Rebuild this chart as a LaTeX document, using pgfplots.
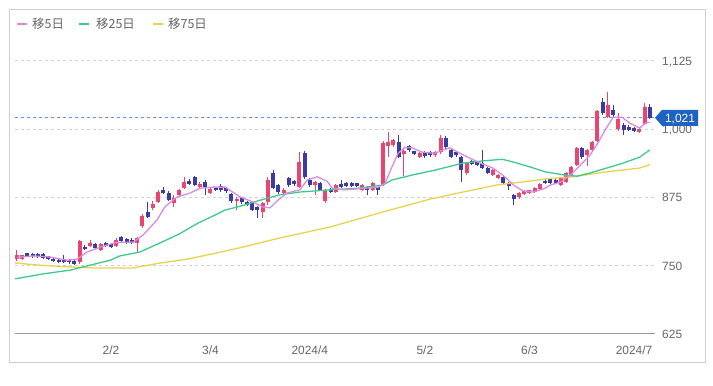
\documentclass[border=0pt]{standalone}
\usepackage{fontspec}
\setmainfont{Liberation Sans}
\newfontfamily\cjk{Noto Sans CJK JP}
\usepackage{pgfplots}
\usepackage{pgfplotstable}
\pgfplotsset{compat=1.18}
\definecolor{upc}{HTML}{E8466E}
\definecolor{dnc}{HTML}{3B3BA6}
\definecolor{mafive}{HTML}{D98BE0}
\definecolor{matwentyfive}{HTML}{3DCB8C}
\definecolor{maseventyfive}{HTML}{E9D34E}
\definecolor{gridc}{HTML}{D0D0D0}
\definecolor{axisc}{HTML}{9A9A9A}
\definecolor{framec}{HTML}{CFCFCF}
\definecolor{tickc}{HTML}{666666}
\definecolor{lastblue}{RGB}{100,150,230}
\definecolor{boxc}{HTML}{1D63C4}

\pgfplotstableread{
i o h l c
2 762 778 758 770
3 763 770 760 769
14 756 797 754 795
16 786 798 784 792
18 779 792 777 790
21 786 800 784 798
25 792 803 776 800
26 822 845 820 842
28 855 868 852 864
29 867 888 865 885
32 865 880 857 874
33 880 891 877 889
34 893 912 890 903
37 894 904 890 900
39 884 894 881 891
44 868 876 852 872
49 849 867 838 865
50 866 913 862 907
53 883 893 879 889
56 895 958 893 940
59 898 906 880 903
61 868 890 865 888
63 885 899 883 897
68 889 900 887 898
70 889 903 886 901
72 898 978 896 975
73 970 995 950 976
74 971 983 968 980
76 955 965 915 960
79 950 958 948 956
82 953 960 950 958
83 958 990 955 984
88 920 940 917 938
93 916 927 914 925
94 910 918 908 916
98 875 885 872 883
99 882 889 880 887
100 883 889 882 888
101 885 894 883 892
102 891 901 889 899
106 898 912 896 910
107 904 922 902 920
108 916 933 914 931
109 934 967 932 965
111 953 964 933 962
112 962 978 960 976
113 978 1036 976 1033
115 1022 1068 1020 1044
117 1000 1030 996 1018
121 995 1004 993 1001
122 1010 1048 1008 1040
}\uptab

\pgfplotstableread{
i o h l c
4 773 774 767 768
5 772 774 765 767
6 771 773 765 766
7 771 774 762 764
8 767 768 760 762
9 763 765 756 758
10 761 762 755 756
11 762 770 755 757
12 761 762 754 756
13 759 760 752 754
15 785 788 778 780
17 790 792 781 783
19 792 794 784 786
20 790 792 784 785
22 802 805 794 796
23 799 801 790 794
24 798 800 791 792
27 848 866 838 840
30 889 895 882 884
31 883 886 868 870
35 906 908 898 900
36 912 915 896 898
38 903 907 880 895
40 893 894 887 888
41 896 899 885 888
42 892 894 883 886
43 882 884 865 868
45 874 876 864 867
46 867 869 861 862
47 867 869 850 853
48 857 860 838 852
51 920 926 890 893
52 897 900 882 885
54 911 913 895 898
55 905 907 896 899
57 956 960 908 912
58 907 910 895 898
60 902 904 886 889
62 891 892 884 885
64 899 907 893 894
65 901 903 895 896
66 901 903 895 896
67 901 902 894 896
69 894 896 880 889
71 894 895 880 889
75 976 990 947 950
77 969 972 958 962
78 960 961 953 955
80 958 960 948 951
81 958 961 950 953
84 984 987 964 967
85 962 964 947 950
86 958 961 950 953
87 949 951 904 925
89 941 943 935 936
90 940 942 932 935
91 938 962 927 929
92 929 931 918 920
95 913 915 900 902
96 902 903 889 896
97 880 882 862 873
103 906 908 899 901
104 908 909 901 902
105 907 908 900 901
110 965 967 946 949
114 1049 1057 1026 1029
116 1035 1044 1020 1026
118 1008 1012 989 999
119 1005 1007 997 999
120 1003 1004 996 997
123 1040 1046 1018 1021
}\dntab

\pgfplotsset{
  candle/.style n args={2}{draw=none, mark=none, forget plot,
    error bars/.cd, y dir=both, y explicit, error mark=none,
    error bar style={draw=#1, solid, line width=#2}},
}

\begin{document}
\begin{tikzpicture}
\fill[white] (0,0) rectangle (713bp,386bp);
\useasboundingbox (0,0) rectangle (713bp,386bp);
\draw[framec, line width=1bp] (9.5bp,23.5bp) rectangle (705.5bp,376.5bp);
% legend
\draw[mafive, line width=2bp] (17bp,362bp) -- (27bp,362bp);
\node[anchor=base west, inner sep=0pt, text=tickc, font=\cjk\fontsize{12.5}{14}\selectfont] at (32bp,357.5bp) {移5日};
\draw[matwentyfive, line width=2bp] (79bp,362bp) -- (89bp,362bp);
\node[anchor=base west, inner sep=0pt, text=tickc, font=\cjk\fontsize{12.5}{14}\selectfont] at (96bp,357.5bp) {移25日};
\draw[maseventyfive, line width=2bp] (153bp,362bp) -- (163bp,362bp);
\node[anchor=base west, inner sep=0pt, text=tickc, font=\cjk\fontsize{12.5}{14}\selectfont] at (168bp,357.5bp) {移75日};

\begin{axis}[
  at={(15bp,52bp)}, anchor=south west,
  scale only axis, width=640bp, height=286.65bp,
  xmin=1.64, xmax=124, ymin=625, ymax=1150,
  axis line style={draw=none},
  clip mode=individual,
  xtick={20,39,58,80,100,120},
  xticklabels={2/2,3/4,2024/4,5/2,6/3,2024/7},
  ytick={625,750,875,1000,1125},
  ytick pos=right, yticklabel pos=right,
  xtick pos=bottom,
  major tick length=0pt,
  ymajorgrids,
  grid style={dash pattern=on 3bp off 3bp, line width=1bp, color=gridc},
  /pgf/number format/assume math mode=true,
  /pgf/number format/1000 sep={,},
  tick label style={font=\fontsize{12}{14}\selectfont, text=tickc},
  yticklabel style={anchor=base west, inner sep=0pt, xshift=7bp, yshift=-4.3bp},
  xticklabel style={anchor=base, inner sep=0pt, yshift=-21bp},
]
\draw[axisc, line width=1bp] (rel axis cs:0,0) -- (rel axis cs:1,0);
\draw[lastblue, line width=1.3bp, dash pattern=on 3bp off 3bp] (axis cs:1.64,1021) -- (axis cs:124,1021);

% down candles
\addplot[candle={dnc}{1bp}]
  table[x=i, y=c, y error plus expr=\thisrow{h}-\thisrow{c}, y error minus expr=\thisrow{c}-\thisrow{l}] {\dntab};
\addplot[candle={dnc}{4bp}]
  table[x=i, y=c, y error plus expr=\thisrow{o}-\thisrow{c}, y error minus expr=0] {\dntab};
% up candles
\addplot[candle={upc}{1bp}]
  table[x=i, y=c, y error plus expr=\thisrow{h}-\thisrow{c}, y error minus expr=\thisrow{c}-\thisrow{l}] {\uptab};
\addplot[candle={upc}{4bp}]
  table[x=i, y=c, y error plus expr=0, y error minus expr=\thisrow{c}-\thisrow{o}] {\uptab};

% 75-day MA
\addplot[maseventyfive, line width=1.3bp] coordinates {
(1.64,755) (6.4,751) (11.6,748) (16.6,746) (24.2,746) (29.4,755) (34.5,762) (39.5,772)
(44.7,783) (52.3,801) (61.9,821) (71.4,847) (81,872) (87.3,885) (93.8,898) (100.1,905)
(103,909) (108.3,913) (114.8,922) (121.1,929) (123,935)};
% 25-day MA
\addplot[matwentyfive, line width=1.3bp] coordinates {
(1.64,726) (7,735) (12.2,742) (16,751) (19.8,760) (21.7,768) (25.5,775) (29.4,792)
(33,808) (36.6,828) (39.5,841) (41.8,852) (44.7,859) (48.5,870) (52.3,880) (56.1,885)
(61.9,889) (67.2,892) (72,898) (73.7,907) (77.5,916) (81.9,925) (87.3,938) (91.1,942)
(94.8,945) (96.9,940) (100.1,931) (103,922) (106.8,916) (109.1,914) (111.6,920)
(114.8,929) (117.9,938) (121.1,949) (123,962)};
% 5-day MA
\addplot[mafive, line width=1.3bp] coordinates {
(2,765) (5,768) (8.3,766) (11.6,760) (13.5,762) (15.4,775) (17.9,784) (21.1,793)
(24.2,793) (26.1,806) (28.8,834) (30.3,858) (32.6,876) (35.1,883) (37,892) (39.5,894)
(41.8,894) (44.7,876) (47.1,867) (48.9,858) (50.4,856) (51.9,870) (53.6,883) (56.1,889)
(57.5,907) (59.4,913) (61.3,905) (62.3,892) (64.7,889) (68.6,892) (71.1,894) (72.4,901)
(73.7,931) (74.9,956) (76.2,967) (77.5,966) (79.5,958) (81.9,956) (83.5,962) (84.8,966)
(86.7,956) (88.6,947) (90.6,938) (93,929) (94.9,916) (96.9,898) (98.8,887) (100.7,885)
(103,892) (104,898) (105.9,903) (107.8,916) (109.7,934) (111.6,953) (113.1,975)
(114.5,999) (116,1022) (117.7,1022) (119.2,1011) (121.1,1002) (122.1,1011) (123,1013)};
\coordinate (last) at (axis cs:124,1021);
\end{axis}
\fill[boxc] (last) -- ++(7bp,8bp) -- ++(36bp,0) -- ++(0,-16bp) -- ++(-36bp,0) -- cycle;
\node[text=white, inner sep=0pt, anchor=base, font=\fontsize{12}{14}\selectfont] at ([xshift=25bp, yshift=-4.3bp]last) {1,021};
\end{tikzpicture}
\end{document}
